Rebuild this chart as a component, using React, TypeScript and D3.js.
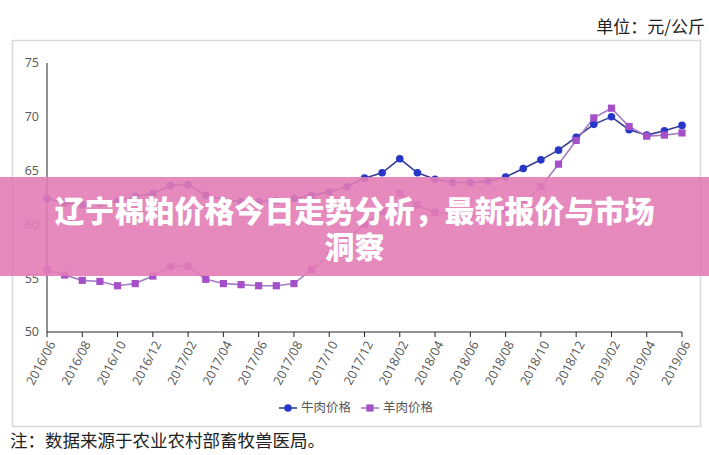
import React from "react";
import * as d3 from "d3";

const months = [
  "2016/06","2016/07","2016/08","2016/09","2016/10","2016/11","2016/12",
  "2017/01","2017/02","2017/03","2017/04","2017/05","2017/06","2017/07",
  "2017/08","2017/09","2017/10","2017/11","2017/12","2018/01","2018/02",
  "2018/03","2018/04","2018/05","2018/06","2018/07","2018/08","2018/09",
  "2018/10","2018/11","2018/12","2019/01","2019/02","2019/03","2019/04",
  "2019/05","2019/06",
];
const tickLabels = [
  "2016/06","2016/08","2016/10","2016/12","2017/02","2017/04","2017/06",
  "2017/08","2017/10","2017/12","2018/02","2018/04","2018/06","2018/08",
  "2018/10","2018/12","2019/02","2019/04","2019/06",
];
const beef = [
  62.4, 62.0, 61.8, 62.0, 62.1, 62.6, 62.9, 63.6, 63.7, 62.7, 62.3, 62.1,
  62.1, 62.2, 62.4, 62.7, 63.0, 63.5, 64.3, 64.8, 66.1, 64.8, 64.2, 63.9,
  63.9, 64.0, 64.4, 65.2, 66.0, 66.9, 68.1, 69.3, 70.0, 68.8, 68.3, 68.7, 69.2,
];
const mutton = [
  55.8, 55.3, 54.8, 54.7, 54.3, 54.5, 55.2, 56.1, 56.1, 54.9, 54.5, 54.4,
  54.3, 54.3, 54.5, 55.8, 57.1, 58.6, 60.0, 61.2, 62.9, 61.8, 61.1, 61.0,
  61.0, 61.1, 61.3, 62.0, 63.5, 65.6, 67.8, 69.9, 70.8, 69.1, 68.2, 68.3, 68.5,
];
const yTicks = [50, 55, 60, 65, 70, 75];
const seriesNames = ["牛肉价格", "羊肉价格"];
const titleLines = ["辽宁棉粕价格今日走势分析，最新报价与市场", "洞察"];
const unitText = "单位：元/公斤";
const noteText = "注：数据来源于农业农村部畜牧兽医局。";

const W = 709;
const H = 455;
const BLUE_LINE = "#34408f";
const BLUE_DOT = "#2637c8";
const PURPLE_LINE = "#a47cc4";
const PURPLE_DOT = "#a550c8";
const AXIS_FONT = "'Open Sans', 'Noto Sans', sans-serif";
const CJK = "'Noto Sans CJK SC', sans-serif";

export default function App() {
  const x = d3.scalePoint<string>().domain(months).range([47, 682]);
  const y = d3.scaleLinear().domain([50, 75]).range([332, 63]);
  const line = d3
    .line<number>()
    .x((_, i) => x(months[i]) as number)
    .y((d) => y(d));

  return (
    <svg
      width={W}
      height={H}
      style={{ position: "absolute", left: 0, top: 0, background: "#fff" }}
    >
      <rect x={0} y={0} width={W} height={H} fill="#fff" />
      <text
        x={705}
        y={33}
        textAnchor="end"
        fontFamily={CJK}
        fontSize={17}
        fill="#222"
      >
        {unitText}
      </text>
      <rect x={12.5} y={40.5} width={688} height={386} fill="none" stroke="#d8d8d8" strokeWidth={1.5} />

      {/* y axis */}
      <line x1={47} x2={47} y1={y(75)} y2={y(50)} stroke="#222" strokeWidth={1} />
      {yTicks.map((t) => (
        <text
          key={t}
          x={39}
          y={y(t)}
          dy="0.35em"
          textAnchor="end"
          fontFamily={AXIS_FONT}
          fontSize={12.5}
          fill="#555"
        >
          {t}
        </text>
      ))}

      {/* x axis */}
      <line x1={47} x2={682} y1={332} y2={332} stroke="#222" strokeWidth={1} />
      {tickLabels.map((m) => {
        const px = x(m) as number;
        return (
          <g key={m}>
            <line x1={px} x2={px} y1={332} y2={337} stroke="#222" />
            <text
              transform={`translate(${px + 5},${342}) rotate(-62)`}
              textAnchor="end"
              dy="0.35em"
              fontFamily={AXIS_FONT}
              fontSize={12.5}
              fill="#555"
            >
              {m}
            </text>
          </g>
        );
      })}

      {/* series */}
      <path d={line(beef) || ""} fill="none" stroke={BLUE_LINE} strokeWidth={1.6} />
      <path d={line(mutton) || ""} fill="none" stroke={PURPLE_LINE} strokeWidth={1.6} />
      {beef.map((v, i) => (
        <circle key={"b" + i} cx={x(months[i]) as number} cy={y(v)} r={3.8} fill={BLUE_DOT} />
      ))}
      {mutton.map((v, i) => (
        <rect
          key={"m" + i}
          x={(x(months[i]) as number) - 3.6}
          y={y(v) - 3.6}
          width={7.2}
          height={7.2}
          fill={PURPLE_DOT}
        />
      ))}

      {/* legend */}
      <g fontFamily={CJK} fontSize={12.5} fill="#555">
        <line x1={279} x2={297} y1={408} y2={408} stroke={BLUE_LINE} strokeWidth={1.6} />
        <circle cx={288} cy={408} r={3.8} fill={BLUE_DOT} />
        <text x={301} y={408} dy="0.35em">{seriesNames[0]}</text>
        <line x1={361} x2={379} y1={408} y2={408} stroke={PURPLE_LINE} strokeWidth={1.6} />
        <rect x={366.4} y={404.4} width={7.2} height={7.2} fill={PURPLE_DOT} />
        <text x={383} y={408} dy="0.35em">{seriesNames[1]}</text>
      </g>

      {/* note */}
      <text x={10} y={447} fontFamily={CJK} fontSize={17.5} fill="#222">
        {noteText}
      </text>

      {/* banner */}
      <rect x={0} y={177} width={W} height={99} fill="#e37cb6" opacity={0.9} />
      <text
        textAnchor="middle"
        fontFamily={CJK}
        fontWeight={900}
        fontSize={30}
        fill="#fff"
      >
        {titleLines.map((t, i) => (
          <tspan key={i} x={W / 2} y={222 + i * 36}>
            {t}
          </tspan>
        ))}
      </text>
    </svg>
  );
}
